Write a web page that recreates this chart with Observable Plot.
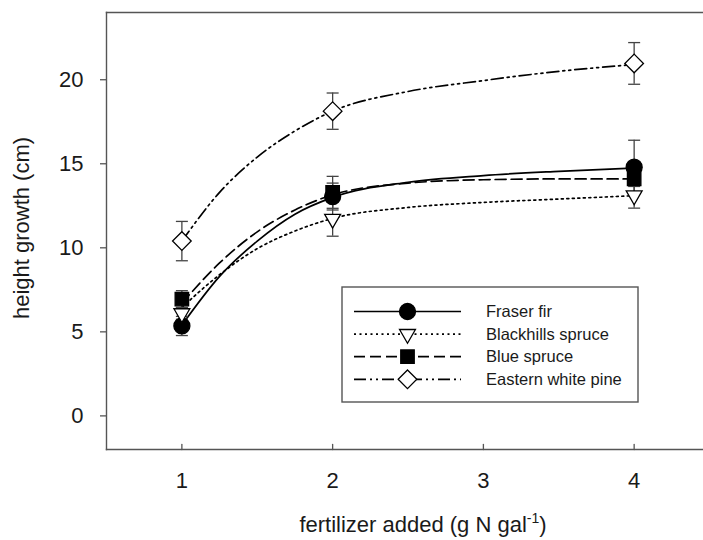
<!DOCTYPE html>
<html>
<head>
<meta charset="utf-8">
<script src="https://cdn.jsdelivr.net/npm/d3@7"></script>
<script src="https://cdn.jsdelivr.net/npm/@observablehq/plot@0.6"></script>
<style>
  body { margin: 0; background: #fff; }
  #chart { width: 703px; height: 540px; }
</style>
</head>
<body>
<div id="chart"></div>
<script>
// Fertilizer rates (g N per gallon) and the species tested
const doses = [1, 2, 4];
const species = ["Fraser fir", "Blackhills spruce", "Blue spruce", "Eastern white pine"];

// Mean height growth (cm) and standard error at each rate
const fraserFirMean = [5.35, 13.05, 14.8];
const fraserFirSE = [0.57, 0.8, 1.6];
const blackhillsMean = [6.1, 11.72, 13.11];
const blackhillsSE = [0.35, 1.03, 0.75];
const blueSpruceMean = [6.95, 13.3, 14.1];
const blueSpruceSE = [0.5, 0.95, 0.45];
const whitePineMean = [10.4, 18.13, 20.97];
const whitePineSE = [1.17, 1.08, 1.24];

// Fitted response curves, sampled along the fertilizer axis
const fitDoses = [1, 1.25, 1.5, 1.75, 2, 2.5, 3, 3.5, 4];
const fraserFirFit = [5.4, 8.3, 10.4, 12.0, 13.0, 13.9, 14.3, 14.55, 14.75];
const blackhillsFit = [6.45, 8.4, 9.95, 11.0, 11.75, 12.4, 12.7, 12.9, 13.1];
const blueSpruceFit = [6.7, 9.1, 10.95, 12.25, 13.15, 13.85, 14.05, 14.1, 14.1];
const whitePineFit = [10.4, 13.3, 15.4, 16.95, 18.13, 19.3, 19.95, 20.5, 20.9];

// Axis ticks
const xTicks = [1, 2, 3, 4];
const yTicks = [0, 5, 10, 15, 20];

const series = [
  {name: species[0], mean: fraserFirMean, se: fraserFirSE, fit: fraserFirFit},
  {name: species[1], mean: blackhillsMean, se: blackhillsSE, fit: blackhillsFit},
  {name: species[2], mean: blueSpruceMean, se: blueSpruceSE, fit: blueSpruceFit},
  {name: species[3], mean: whitePineMean, se: whitePineSE, fit: whitePineFit}
];

// Line and marker styling per species
const styles = {
  "Fraser fir":         {dash: null,           symbol: "circle",   r: 8,   fill: "#000", rotate: 0},
  "Blackhills spruce":  {dash: "2,3.5",        symbol: "triangle", r: 5.9, fill: "#fff", rotate: 180},
  "Blue spruce":        {dash: "11,5",         symbol: "square",   r: 7.6, fill: "#000", rotate: 0},
  "Eastern white pine": {dash: "12,4,2,4,2,4", symbol: "diamond2", r: 8.4, fill: "#fff", rotate: 0}
};

const points = series.flatMap(s => doses.map((d, i) => ({
  species: s.name, dose: d, mean: s.mean[i],
  lo: s.mean[i] - s.se[i], hi: s.mean[i] + s.se[i]
})));
const curves = series.flatMap(s => fitDoses.map((d, i) => ({species: s.name, dose: d, value: s.fit[i]})));

const axisGray = "#555";
const ink = "#1a1a1a";
const font = "'Liberation Sans', Arial, Helvetica, sans-serif";

// Horizontal error-bar cap
const capSymbol = {draw(ctx) { ctx.moveTo(-6, 0); ctx.lineTo(6, 0); }};
// Inward tick on the bottom axis
const upTick = {draw(ctx, l) { ctx.moveTo(0, 0); ctx.lineTo(0, -l); }};

const marks = [
  Plot.frame({anchor: "left", stroke: axisGray, strokeWidth: 1.4}),
  Plot.frame({anchor: "top", stroke: axisGray, strokeWidth: 1.4}),
  Plot.frame({anchor: "bottom", stroke: axisGray, strokeWidth: 1.4}),
  Plot.axisY({ticks: yTicks, tickFormat: d3.format("d"), label: null, tickSize: 6, tickPadding: 17, fontSize: 22, stroke: axisGray, fill: ink, strokeWidth: 1.3}),
  Plot.axisX({ticks: xTicks, tickFormat: d3.format("d"), label: null, tickSize: 0, tickPadding: 23, fontSize: 22, fill: ink}),
  Plot.vector(xTicks, {x: d => d, frameAnchor: "bottom", length: 5, anchor: "start", shape: upTick, stroke: axisGray, strokeWidth: 1.3})
];

for (const s of series) {
  const st = styles[s.name];
  marks.push(Plot.line(curves.filter(d => d.species === s.name), {
    x: "dose", y: "value", curve: "monotone-x",
    stroke: "#000", strokeWidth: 1.7, strokeDasharray: st.dash
  }));
}

marks.push(
  Plot.ruleX(points, {x: "dose", y1: "lo", y2: "hi", stroke: "#444", strokeWidth: 1.3}),
  Plot.dot(points, {x: "dose", y: "lo", symbol: capSymbol, fill: "none", stroke: "#444", strokeWidth: 1.3}),
  Plot.dot(points, {x: "dose", y: "hi", symbol: capSymbol, fill: "none", stroke: "#444", strokeWidth: 1.3})
);

for (const s of series) {
  const st = styles[s.name];
  marks.push(Plot.dot(points.filter(d => d.species === s.name), {
    x: "dose", y: "mean", symbol: st.symbol, r: st.r, rotate: st.rotate,
    fill: st.fill, stroke: "#000", strokeWidth: 1.3
  }));
}

const chart = Plot.plot({
  width: 703,
  height: 540,
  marginLeft: 106,
  marginRight: 0,
  marginTop: 12,
  marginBottom: 91,
  style: {fontFamily: font, background: "#fff", color: ink},
  x: {domain: [0.5, 4.46], axis: null},
  y: {domain: [-2, 24], axis: null},
  marks
});

// Axis titles and legend
const svg = d3.select(chart);

svg.append("text")
  .attr("transform", "translate(29,228) rotate(-90)")
  .attr("text-anchor", "middle")
  .attr("font-family", font).attr("font-size", 22).attr("fill", ink)
  .text("height growth (cm)");

const xt = svg.append("text")
  .attr("x", 423).attr("y", 532)
  .attr("text-anchor", "middle")
  .attr("font-family", font).attr("font-size", 22).attr("fill", ink);
xt.append("tspan").text("fertilizer added (g N gal");
xt.append("tspan").attr("dy", -9).attr("font-size", 14).text("-1");
xt.append("tspan").attr("dy", 9).text(")");

const legend = svg.append("g").attr("text-anchor", "start");
legend.append("rect")
  .attr("x", 342).attr("y", 287).attr("width", 296).attr("height", 115)
  .attr("fill", "#fff").attr("stroke", axisGray).attr("stroke-width", 1.4);

const symbolTypes = {circle: d3.symbolCircle, triangle: d3.symbolTriangle, square: d3.symbolSquare, diamond2: d3.symbolDiamond2};
species.forEach((name, i) => {
  const st = styles[name];
  const y = 311.5 + i * 22.6;
  const row = legend.append("g");
  row.append("line")
    .attr("x1", 354).attr("x2", 461).attr("y1", y).attr("y2", y)
    .attr("stroke", "#000").attr("stroke-width", 1.7)
    .attr("stroke-dasharray", st.dash);
  row.append("path")
    .attr("transform", `translate(407.5,${y}) rotate(${st.rotate})`)
    .attr("d", d3.symbol(symbolTypes[st.symbol], Math.PI * st.r * st.r)())
    .attr("fill", st.fill).attr("stroke", "#000").attr("stroke-width", 1.3);
  row.append("text")
    .attr("x", 486).attr("y", y).attr("dy", "0.35em")
    .attr("text-anchor", "start")
    .attr("font-family", font).attr("font-size", 16.5).attr("fill", ink)
    .text(name);
});

document.getElementById("chart").appendChild(chart);
</script>
</body>
</html>
